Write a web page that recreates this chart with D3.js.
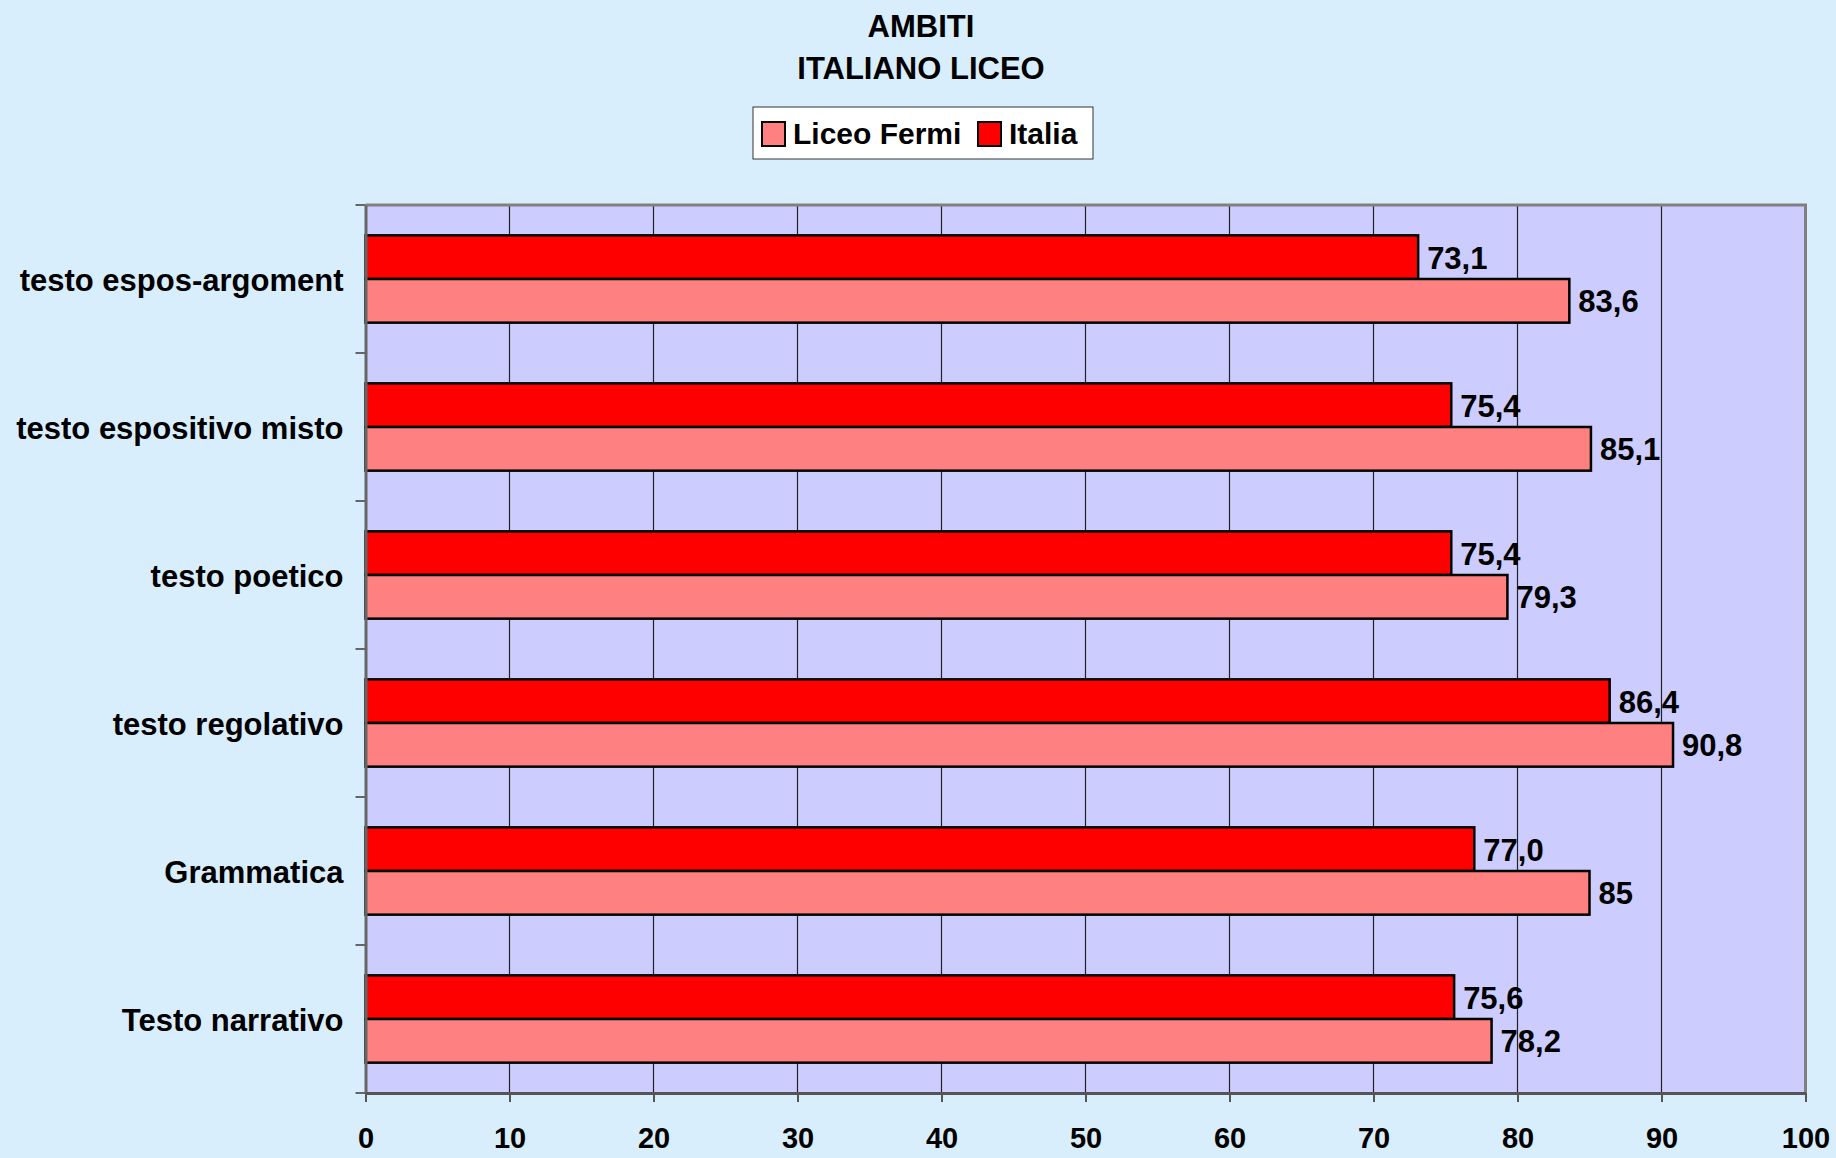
<!DOCTYPE html>
<html>
<head>
<meta charset="utf-8">
<script src="https://cdn.jsdelivr.net/npm/d3@7"></script>
<style>
  html, body { margin: 0; padding: 0; background: #D9EEFD; }
  svg { display: block; font-family: "Liberation Sans", Arial, sans-serif; font-weight: bold; }
</style>
</head>
<body>
<div id="chart"></div>
<script>
const categories = [
    "testo espos-argoment", "testo espositivo misto", "testo poetico",
    "testo regolativo", "Grammatica", "Testo narrativo"
];
const seriesNames = ["Italia", "Liceo Fermi"];
const italia = [73.1, 75.4, 75.4, 86.4, 77.0, 75.6];
const liceoFermi = [83.6, 85.1, 79.3, 90.8, 85, 78.2];
const italiaLabels = ["73,1", "75,4", "75,4", "86,4", "77,0", "75,6"];
const fermiLabels = ["83,6", "85,1", "79,3", "90,8", "85", "78,2"];
const xTicks = [0, 10, 20, 30, 40, 50, 60, 70, 80, 90, 100];
const titleLines = ["AMBITI", "ITALIANO LICEO"];

const W = 1836, H = 1158;
const plot = { left: 365.5, right: 1805.5, top: 205, bottom: 1093 };
const colors = { "Italia": "#FF0000", "Liceo Fermi": "#FF8080" };

const svg = d3.select("#chart").append("svg")
    .attr("width", W)
    .attr("height", H);

svg.append("rect").attr("width", W).attr("height", H).attr("fill", "#D9EEFD");

const x = d3.scaleLinear().domain([0, 100]).range([plot.left, plot.right]);
const y = d3.scaleBand().domain(categories).range([plot.top, plot.bottom]).padding(0);
const bw = y.bandwidth();
const ySub = d3.scaleBand().domain(seriesNames).range([bw * 0.205, bw * 0.795]).padding(0);

// plot background
svg.append("rect")
    .attr("x", plot.left).attr("y", plot.top)
    .attr("width", plot.right - plot.left).attr("height", plot.bottom - plot.top)
    .attr("fill", "#CCCCFF");

// vertical gridlines
svg.append("g").selectAll("line")
    .data(xTicks.slice(1, -1))
    .enter().append("line")
    .attr("x1", d => x(d)).attr("x2", d => x(d))
    .attr("y1", plot.top).attr("y2", plot.bottom)
    .attr("stroke", "#222").attr("stroke-width", 1.2);

// plot border top and right
svg.append("path")
    .attr("d", `M${plot.left},${plot.top}H${plot.right}V${plot.bottom}`)
    .attr("fill", "none").attr("stroke", "#808080").attr("stroke-width", 3);

// bars
const rows = categories.map((c, i) => ({
    cat: c,
    vals: [
        { s: "Italia", v: italia[i], lab: italiaLabels[i] },
        { s: "Liceo Fermi", v: liceoFermi[i], lab: fermiLabels[i] }
    ]
}));

const groups = svg.append("g").selectAll("g")
    .data(rows)
    .enter().append("g")
    .attr("transform", d => `translate(0,${y(d.cat)})`);

groups.selectAll("rect")
    .data(d => d.vals)
    .enter().append("rect")
    .attr("x", x(0))
    .attr("y", d => ySub(d.s))
    .attr("width", d => x(d.v) - x(0))
    .attr("height", ySub.bandwidth())
    .attr("fill", d => colors[d.s])
    .attr("stroke", "#000")
    .attr("stroke-width", 2.5);

groups.selectAll("text")
    .data(d => d.vals)
    .enter().append("text")
    .attr("x", d => x(d.v) + 9)
    .attr("y", d => ySub(d.s) + ySub.bandwidth() / 2)
    .attr("dy", "0.37em")
    .attr("font-size", 31)
    .attr("fill", "#000")
    .text(d => d.lab);

// left axis
const yAxis = svg.append("g")
    .attr("transform", `translate(${plot.left},0)`)
    .call(d3.axisLeft(y).tickSize(0).tickPadding(22));
yAxis.select(".domain").attr("stroke", "#666").attr("stroke-width", 3);
yAxis.selectAll("text")
    .attr("font-size", 31)
    .attr("font-family", "Liberation Sans, Arial, sans-serif")
    .attr("font-weight", "bold")
    .attr("fill", "#000")
    .attr("dy", "0.38em");
yAxis.selectAll(".cat-tick")
    .data(d3.range(categories.length + 1))
    .enter().append("line")
    .attr("class", "cat-tick")
    .attr("x1", -10).attr("x2", 0)
    .attr("y1", i => plot.top + i * bw).attr("y2", i => plot.top + i * bw)
    .attr("stroke", "#666").attr("stroke-width", 2);

// bottom axis
const xAxis = svg.append("g")
    .attr("transform", `translate(0,${plot.bottom})`)
    .call(d3.axisBottom(x).tickValues(xTicks).tickSize(9).tickPadding(25).tickSizeOuter(0));
xAxis.select(".domain").attr("stroke", "#555").attr("stroke-width", 3);
xAxis.selectAll(".tick line").attr("stroke", "#555").attr("stroke-width", 2);
xAxis.selectAll("text")
    .attr("font-size", 29)
    .attr("font-family", "Liberation Sans, Arial, sans-serif")
    .attr("font-weight", "bold")
    .attr("fill", "#000");

// title
svg.append("g").selectAll("text")
    .data(titleLines)
    .enter().append("text")
    .attr("x", 921)
    .attr("y", (d, i) => 37 + i * 42)
    .attr("text-anchor", "middle")
    .attr("font-size", 31)
    .attr("fill", "#000")
    .text(d => d);

// legend
const legend = svg.append("g");
legend.append("rect")
    .attr("x", 753).attr("y", 107).attr("width", 340).attr("height", 52)
    .attr("fill", "#fff").attr("stroke", "#333").attr("stroke-width", 1);
const legendItems = [
    { s: "Liceo Fermi", x: 762 },
    { s: "Italia", x: 978 }
];
legendItems.forEach(it => {
    legend.append("rect")
        .attr("x", it.x).attr("y", 122).attr("width", 23).attr("height", 24)
        .attr("fill", colors[it.s]).attr("stroke", "#000").attr("stroke-width", 2);
    legend.append("text")
        .attr("x", it.x + 31).attr("y", 144)
        .attr("font-size", 30)
        .attr("fill", "#000")
        .text(it.s);
});
</script>
</body>
</html>
